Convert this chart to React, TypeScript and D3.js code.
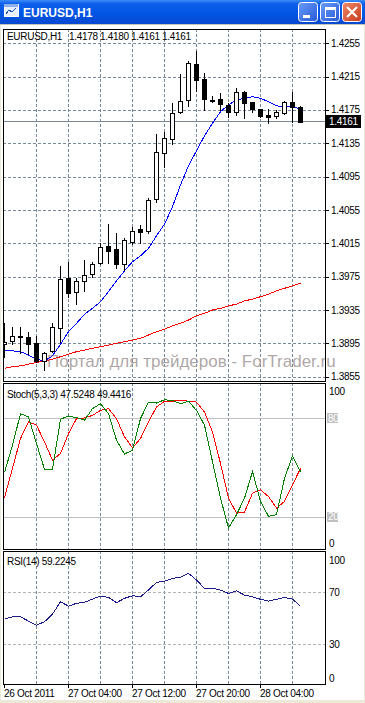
import React from 'react';
import * as d3 from 'd3';

// EURUSD H1 candles, 26 Oct 2011 20:00 .. 28 Oct 2011 09:00
const open = [1.3894, 1.3898, 1.3904, 1.3903, 1.3895, 1.3874, 1.3886, 1.3913, 1.3973, 1.3957, 1.397, 1.3978, 1.3991, 1.4012, 1.4008, 1.399, 1.4017, 1.4032, 1.403, 1.4068, 1.4123, 1.414, 1.4173, 1.4187, 1.423, 1.4212, 1.4187, 1.4188, 1.4181, 1.4173, 1.4197, 1.4185, 1.4176, 1.4169, 1.4168, 1.4171, 1.4185, 1.4178];
const high = [1.3919, 1.3915, 1.3915, 1.3909, 1.3904, 1.3885, 1.3919, 1.3988, 1.3993, 1.3973, 1.3995, 1.3993, 1.4015, 1.4038, 1.4027, 1.4021, 1.4035, 1.4037, 1.4069, 1.4146, 1.4149, 1.4183, 1.4218, 1.4234, 1.4246, 1.4219, 1.4192, 1.4195, 1.4183, 1.4201, 1.4198, 1.4185, 1.4176, 1.4176, 1.4175, 1.4186, 1.4197, 1.418];
const low = [1.3879, 1.3894, 1.3883, 1.3882, 1.3873, 1.3863, 1.3885, 1.3897, 1.3951, 1.3942, 1.3958, 1.3975, 1.399, 1.3991, 1.3985, 1.3983, 1.4014, 1.4015, 1.4027, 1.4065, 1.4107, 1.4134, 1.4171, 1.418, 1.4198, 1.4175, 1.4185, 1.4175, 1.4167, 1.4169, 1.4165, 1.4173, 1.4167, 1.4159, 1.4165, 1.417, 1.4161, 1.4161];
const close = [1.3897, 1.3904, 1.3903, 1.3894, 1.3874, 1.3883, 1.3915, 1.3972, 1.3955, 1.397, 1.3977, 1.399, 1.4011, 1.4006, 1.399, 1.4019, 1.403, 1.4029, 1.4067, 1.4125, 1.4141, 1.4171, 1.4186, 1.4231, 1.4211, 1.4188, 1.4186, 1.4182, 1.4173, 1.4197, 1.4183, 1.4176, 1.4168, 1.4167, 1.4173, 1.4185, 1.4179, 1.4161];

// moving averages
const maFast = [1.3887, 1.3886, 1.3885, 1.3881, 1.3876, 1.3874, 1.388, 1.3894, 1.3909, 1.3919, 1.393, 1.3937, 1.3945, 1.3957, 1.397, 1.3982, 1.3993, 1.4, 1.4009, 1.4024, 1.4038, 1.4059, 1.4085, 1.4108, 1.4126, 1.4144, 1.4159, 1.4173, 1.4181, 1.4187, 1.4189, 1.4191, 1.4189, 1.4185, 1.418, 1.4179, 1.4179, 1.4176];
const maSlow = [1.3865, 1.3867, 1.3868, 1.387, 1.3872, 1.3874, 1.3876, 1.3879, 1.3882, 1.3885, 1.3887, 1.3889, 1.3891, 1.3893, 1.3895, 1.3897, 1.3899, 1.3901, 1.3905, 1.3909, 1.3912, 1.3916, 1.3919, 1.3923, 1.3928, 1.3931, 1.3935, 1.3937, 1.394, 1.3942, 1.3946, 1.3948, 1.3951, 1.3954, 1.3958, 1.3961, 1.3964, 1.3967];

// Stoch(5,3,3)
const stochMain = [47, 63.6, 82.8, 80.8, 64.6, 48.9, 48.9, 79.4, 81.4, 80.4, 78.8, 85.9, 88.9, 82.8, 66.7, 58.2, 60.6, 79.8, 89.9, 89.3, 91.3, 90.9, 88.9, 90.5, 84.8, 75.8, 53.5, 31.3, 13.1, 21.2, 31.3, 47.5, 29.3, 20.2, 21.2, 43.4, 57, 47.52];
const stochSignal = [31.7, 49.5, 67.7, 77.8, 75.8, 65.6, 54.5, 58.6, 70.7, 79.8, 80.2, 81.8, 84.8, 85.9, 79.8, 68.7, 62, 67.7, 77.8, 86.9, 90.3, 90.5, 90.7, 90.5, 89.9, 83.8, 71.7, 52.5, 31.3, 22.2, 22.8, 34.3, 36.4, 32.3, 25.3, 29.3, 39.4, 49.44];

// RSI(14)
const rsi = [49.3, 51.1, 51.1, 47.8, 44.7, 47.3, 53.2, 62.7, 59.4, 61.5, 62.3, 64.8, 67.1, 66.1, 62, 65.4, 67.4, 66.6, 71.8, 77.7, 78.7, 80.8, 81.6, 84.7, 79.5, 73.1, 73.1, 71.8, 69.2, 71.2, 67.9, 66.6, 64.6, 63.3, 64.6, 66.1, 64.8, 59.22];

const priceTicks = [1.4255, 1.4215, 1.4175, 1.4135, 1.4095, 1.4055, 1.4015, 1.3975, 1.3935, 1.3895, 1.3855];
const bidPrice = 1.4161;
const headerOHLC = ['1.4178', '1.4180', '1.4161', '1.4161'];
const timeTicks = [
  { i: 0, label: '26 Oct 2011' },
  { i: 8, label: '27 Oct 04:00' },
  { i: 16, label: '27 Oct 12:00' },
  { i: 24, label: '27 Oct 20:00' },
  { i: 32, label: '28 Oct 04:00' },
];
const gridBars = [4, 8, 12, 16, 20, 24, 28, 32, 36];

const FONT = "'Liberation Sans', Arial, sans-serif";
const GRID = '#778899';

const L = 3, R = 325;
const main = { top: 29, bottom: 381 };
const stoch = { top: 383, bottom: 549 };
const rsiPane = { top: 551, bottom: 684 };

const px = (v: number) => Math.round(v) + 0.5;

export default function App() {
  const n = close.length;
  const x = d3.scaleLinear().domain([0, n - 1]).range([4, 300]);
  const yP = d3.scaleLinear().domain([1.3855, 1.4255]).range([376.7, 43.3]);
  const yS = d3.scaleLinear().domain([0, 100]).range([549.5, 385.5]);
  const yR = d3.scaleLinear().domain([0, 100]).range([683, 553.5]);

  const lineOf = (y: d3.ScaleLinear<number, number>) =>
    d3.line<number>().x((_, i) => x(i) + 0.5).y(d => y(d));

  const txt = { fontFamily: FONT, fontSize: 10, letterSpacing: -0.3 } as React.CSSProperties;

  const vGrid = (top: number, bottom: number) =>
    gridBars.map(i => (
      <line key={i} x1={x(i) + 0.5} x2={x(i) + 0.5} y1={top} y2={bottom} stroke={GRID} strokeDasharray="3,2" />
    ));

  return (
    <svg width={365} height={703} style={{ position: 'absolute', left: 0, top: 0 }} shapeRendering="crispEdges">
      <defs>
        <linearGradient id="title" x1="0" y1="0" x2="0" y2="1">
          <stop offset="0" stopColor="#3C8CF8" />
          <stop offset="0.15" stopColor="#0F60EC" />
          <stop offset="0.6" stopColor="#0054E3" />
          <stop offset="1" stopColor="#0A48D0" />
        </linearGradient>
        <linearGradient id="btn" x1="0" y1="0" x2="1" y2="1">
          <stop offset="0" stopColor="#6A9CF8" />
          <stop offset="1" stopColor="#2659D8" />
        </linearGradient>
        <linearGradient id="btnx" x1="0" y1="0" x2="1" y2="1">
          <stop offset="0" stopColor="#F08A6A" />
          <stop offset="1" stopColor="#C8391B" />
        </linearGradient>
        <clipPath id="cMain"><rect x={L + 1} y={main.top + 1} width={R - L - 1} height={main.bottom - main.top - 1} /></clipPath>
        <clipPath id="cStoch"><rect x={L + 1} y={stoch.top + 1} width={R - L - 1} height={stoch.bottom - stoch.top - 1} /></clipPath>
        <clipPath id="cRsi"><rect x={L + 1} y={rsiPane.top + 1} width={R - L - 1} height={rsiPane.bottom - rsiPane.top - 1} /></clipPath>
      </defs>

      {/* window frame */}
      <rect x={0} y={0} width={365} height={703} fill="#ECE9D8" />
      <rect x={1} y={25} width={363} height={675} fill="#FFFFFF" />
      <rect x={0} y={0} width={365} height={24} fill="url(#title)" />
      <rect x={0} y={24} width={365} height={1} fill="#C8C4B4" />

      {/* title icon */}
      <g>
        <rect x={4} y={4} width={14} height={12} fill="#E8F0FF" stroke="#FFFFFF" />
        <rect x={4} y={4} width={14} height={3} fill="#8FB0E8" />
        <path d="M6 14 L9 10 L12 12 L16 8" stroke="#2050C0" fill="none" />
      </g>
      <text x={23} y={17} fill="#FFFFFF" fontFamily={FONT} fontWeight="bold" fontSize={12} shapeRendering="auto">EURUSD,H1</text>

      {/* title buttons */}
      <g shapeRendering="auto">
        <rect x={298.5} y={2.5} width={19} height={19} rx={3} fill="url(#btn)" stroke="#FFFFFF" />
        <rect x={303} y={15} width={7} height={3} fill="#FFFFFF" />
        <rect x={320.5} y={2.5} width={19} height={19} rx={3} fill="url(#btn)" stroke="#FFFFFF" />
        <rect x={325.5} y={7.5} width={10} height={10} fill="none" stroke="#FFFFFF" />
        <rect x={325} y={7} width={11} height={3} fill="#FFFFFF" />
        <rect x={342.5} y={2.5} width={19} height={19} rx={3} fill="url(#btnx)" stroke="#FFFFFF" />
        <path d="M347 7 L357 17 M357 7 L347 17" stroke="#FFFFFF" strokeWidth={2} />
      </g>

      {/* ================= main pane ================= */}
      <g>
        {priceTicks.map(t => (
          <line key={t} x1={L} x2={R} y1={px(yP(t))} y2={px(yP(t))} stroke={GRID} strokeDasharray="3,2" />
        ))}
        {vGrid(main.top, main.bottom)}
        <line x1={L} x2={R} y1={Math.floor(yP(bidPrice)) + 0.5} y2={Math.floor(yP(bidPrice)) + 0.5} stroke={GRID} />

        {/* watermark, it runs on over the price scale */}
        <text x={47} y={367} fill="#A09696" fillOpacity={0.85} fontFamily={FONT} fontSize={17} shapeRendering="auto">
          Портал для трейдеров - ForTrader.ru
        </text>

        <g clipPath="url(#cMain)">
          <path d={lineOf(yP)(maSlow) || ''} fill="none" stroke="#FF0000" />
          <path d={lineOf(yP)(maFast) || ''} fill="none" stroke="#0000FF" />
          {close.map((c, i) => {
            const cx = x(i);
            const o = open[i];
            const bull = c >= o;
            const yt = Math.round(yP(Math.max(o, c)));
            const yb = Math.round(yP(Math.min(o, c)));
            return (
              <g key={i}>
                <line x1={cx + 0.5} x2={cx + 0.5} y1={Math.round(yP(high[i]))} y2={Math.round(yP(low[i])) + 1} stroke="#000" />
                {yb - yt < 1 ? (
                  <line x1={cx - 2} x2={cx + 3} y1={yt + 0.5} y2={yt + 0.5} stroke="#000" />
                ) : (
                  <rect x={cx - 1.5} y={yt + 0.5} width={4} height={yb - yt} fill={bull ? '#FFFFFF' : '#000000'} stroke="#000" />
                )}
              </g>
            );
          })}
        </g>
        <rect x={L + 0.5} y={main.top + 0.5} width={R - L} height={main.bottom - main.top} fill="none" stroke="#000" />
        <text x={7} y={40} style={txt}>EURUSD,H1</text>
        {headerOHLC.map((s, i) => (
          <text key={i} x={69 + i * 31} y={40} style={txt}>{s}</text>
        ))}
        {priceTicks.map(t => (
          <g key={t}>
            <line x1={R} x2={R + 4} y1={px(yP(t))} y2={px(yP(t))} stroke="#000" />
            <text x={331} y={yP(t) + 3.5} style={txt}>{t.toFixed(4)}</text>
          </g>
        ))}
        <rect x={326} y={Math.floor(yP(bidPrice)) - 6} width={35} height={13} fill="#000" />
        <text x={329} y={Math.floor(yP(bidPrice)) + 4} fill="#FFFFFF" style={txt}>{bidPrice.toFixed(4)}</text>
      </g>

      {/* ================= stochastic pane ================= */}
      <g>
        {vGrid(stoch.top, stoch.bottom)}
        {[80, 20].map(v => (
          <line key={v} x1={L} x2={R} y1={px(yS(v))} y2={px(yS(v))} stroke="#C0C0C0" />
        ))}
        <g clipPath="url(#cStoch)">
          <path d={lineOf(yS)(stochSignal) || ''} fill="none" stroke="#FF0000" />
          <path d={lineOf(yS)(stochMain) || ''} fill="none" stroke="#008000" />
        </g>
        <rect x={L + 0.5} y={stoch.top + 0.5} width={R - L} height={stoch.bottom - stoch.top} fill="none" stroke="#000" />
        <text x={7} y={398} style={txt}>Stoch(5,3,3) 47.5248 49.4416</text>
        <text x={329} y={395} style={txt}>100</text>
        {[80, 20].map(v => (
          <g key={v}>
            <rect x={327} y={Math.round(yS(v)) - 5} width={11} height={10} fill="#C0C0C0" />
            <text x={328} y={yS(v) + 3.5} fill="#FFFFFF" style={txt}>{v}</text>
          </g>
        ))}
        <text x={329} y={547} style={txt}>0</text>
      </g>

      {/* ================= RSI pane ================= */}
      <g>
        {vGrid(rsiPane.top, rsiPane.bottom)}
        {[70, 30].map(v => (
          <line key={v} x1={L} x2={R + 3} y1={px(yR(v))} y2={px(yR(v))} stroke="#B4B4B4" strokeDasharray="3,2" />
        ))}
        <g clipPath="url(#cRsi)">
          <path d={lineOf(yR)(rsi) || ''} fill="none" stroke="#1C1C8C" />
        </g>
        <rect x={L + 0.5} y={rsiPane.top + 0.5} width={R - L} height={rsiPane.bottom - rsiPane.top} fill="none" stroke="#000" />
        <text x={7} y={565} style={txt}>RSI(14) 59.2245</text>
        <text x={329} y={564} style={txt}>100</text>
        {[70, 30].map(v => (
          <text key={v} x={329} y={yR(v) + 3.5} style={txt}>{v}</text>
        ))}
        <text x={329} y={682} style={txt}>0</text>
      </g>

      {/* time scale */}
      {timeTicks.map(t => (
        <g key={t.i}>
          <line x1={x(t.i) + 0.5} x2={x(t.i) + 0.5} y1={rsiPane.bottom} y2={rsiPane.bottom + 4} stroke="#000" />
          <text x={x(t.i)} y={697} style={txt}>{t.label}</text>
        </g>
      ))}
    </svg>
  );
}
